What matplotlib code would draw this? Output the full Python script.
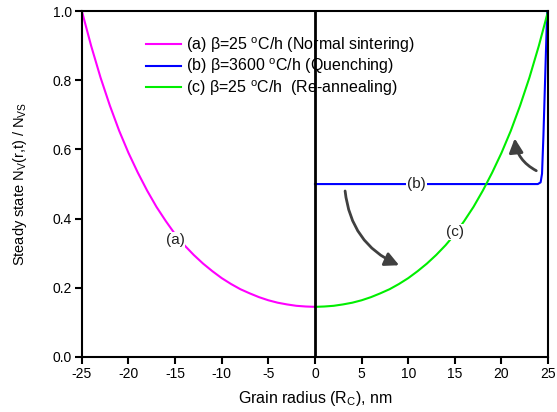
import matplotlib
matplotlib.use("Agg")
import matplotlib.pyplot as plt
from matplotlib.patches import FancyArrowPatch

plt.rcParams["font.family"] = ["Liberation Sans", "DejaVu Sans"]
plt.rcParams["mathtext.fontset"] = "custom"
plt.rcParams["mathtext.rm"] = "Liberation Sans"
plt.rcParams["mathtext.it"] = "Liberation Sans"
plt.rcParams["axes.unicode_minus"] = False

# (a) normal sintering
xa = [-25, -24, -23, -22, -21, -20, -19, -18, -17, -16, -15, -14, -13, -12, -11, -10,
      -9, -8, -7, -6, -5, -4, -3, -2, -1, 0]
ya = [1.0, 0.899, 0.808, 0.727, 0.654, 0.590, 0.533, 0.481, 0.434, 0.393, 0.355, 0.323,
      0.295, 0.270, 0.248, 0.228, 0.211, 0.196, 0.184, 0.173, 0.164, 0.157, 0.152, 0.148,
      0.146, 0.145]

# (b) quenching
xb = [0, 5, 10, 15, 20, 23.9, 24.2, 24.35, 24.5, 24.7, 24.9]
yb = [0.5, 0.5, 0.5, 0.5, 0.5, 0.5, 0.505, 0.53, 0.64, 0.82, 1.0]

# (c) re-annealing
xc = [0, 1, 2, 3, 4, 5, 6, 7, 8, 9, 10, 11, 12, 13, 14, 15, 16, 17, 18, 19, 20, 21,
      22, 23, 24, 25]
yc = [0.145, 0.146, 0.148, 0.152, 0.157, 0.164, 0.173, 0.184, 0.196, 0.211, 0.228,
      0.248, 0.270, 0.295, 0.323, 0.355, 0.393, 0.434, 0.481, 0.533, 0.590, 0.654,
      0.727, 0.808, 0.899, 1.0]

legend_labels = [
    r"(a) β=25 $^\mathregular{o}$C/h (Normal sintering)",
    r"(b) β=3600 $^\mathregular{o}$C/h (Quenching)",
    r"(c) β=25 $^\mathregular{o}$C/h  (Re-annealing)",
]
curve_tags = ["(a)", "(b)", "(c)"]
tag_pos = [(-15.0, 0.338), (10.9, 0.5), (15.0, 0.361)]

fig = plt.figure(figsize=(5.57, 4.12), dpi=100)
ax = fig.add_axes([0.147, 0.1335, 0.837, 0.8395])

ax.plot(xa, ya, color="#FF00FF", lw=1.5, label=legend_labels[0])
ax.plot(xb, yb, color="#0000FF", lw=1.5, label=legend_labels[1])
ax.plot(xc, yc, color="#00EE00", lw=1.5, label=legend_labels[2])
ax.axvline(0, color="black", lw=2)

for tag, (tx, ty) in zip(curve_tags, tag_pos):
    ax.text(tx, ty, tag, fontsize=11, ha="center", va="center", color="#222222",
            bbox=dict(facecolor="white", edgecolor="none", pad=0.5))

arrow_kw = dict(arrowstyle="-|>,head_length=0.6,head_width=0.3", color="#404040",
                lw=2, mutation_scale=14)
ax.add_patch(FancyArrowPatch((3.2, 0.488), (9.3, 0.262),
                             connectionstyle="arc3,rad=0.3", **arrow_kw))
ax.add_patch(FancyArrowPatch((24.0, 0.535), (21.4, 0.64),
                             connectionstyle="arc3,rad=-0.3", **arrow_kw))

ax.set_xlim(-25, 25)
ax.set_ylim(0, 1)
ax.set_xticks(range(-25, 26, 5))
ax.set_yticks([0, 0.2, 0.4, 0.6, 0.8, 1.0])
ax.set_yticklabels(["0.0", "0.2", "0.4", "0.6", "0.8", "1.0"])
ax.tick_params(direction="out", length=5, width=1.5, labelsize=10, pad=2)
for s in ax.spines.values():
    s.set_linewidth(1.5)

ax.set_xlabel("Grain radius (R$_\\mathregular{C}$), nm", fontsize=11.5, labelpad=6)
ax.set_ylabel("Steady state N$_\\mathregular{V}$(r,t) / N$_\\mathregular{VS}$", fontsize=10.5, labelpad=17)

ax.legend(loc="upper left", bbox_to_anchor=(0.107, 0.972), frameon=False,
          fontsize=11.5, handlelength=2.2, handletextpad=0.3, labelspacing=0.12)

fig.savefig("out.png", dpi=100)
